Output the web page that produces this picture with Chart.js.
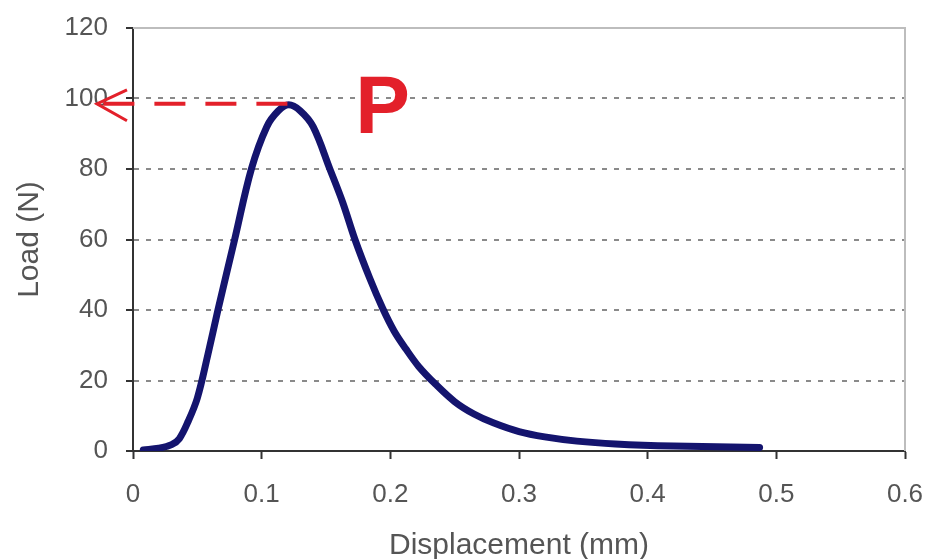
<!DOCTYPE html>
<html>
<head>
<meta charset="utf-8">
<script src="https://cdn.jsdelivr.net/npm/chart.js@4.4.1/dist/chart.umd.min.js"></script>
<style>
  body { margin: 0; background: #fff; }
  #wrap { width: 928px; height: 559px; }
</style>
</head>
<body>
<div id="wrap"><canvas id="grafico" width="928" height="559"></canvas></div>
<script>
// displacement (mm) and load (N)
const displacement = [0.008, 0.020, 0.030, 0.036, 0.043, 0.050, 0.058, 0.066, 0.079, 0.092, 0.104, 0.113, 0.121,
    0.130, 0.140, 0.153, 0.163, 0.1725, 0.184, 0.194, 0.203, 0.212, 0.222, 0.235, 0.250, 0.265, 0.280, 0.300, 0.320,
    0.345, 0.375, 0.420, 0.487];
const load = [0.3, 0.8, 1.8, 3.5, 8.5, 15, 27, 40, 60, 80, 92, 96.5, 98.2,
    96.5, 92, 80, 70.5, 60, 49, 40.5, 34, 29, 24, 19, 14, 10.5, 8, 5.5, 4,
    2.8, 2, 1.4, 1.0];

const xTicks = [0, 0.1, 0.2, 0.3, 0.4, 0.5, 0.6];
const yTicks = [0, 20, 40, 60, 80, 100, 120];

// peak marker
const peakX = 0.12;
const peakLoad = 98.5;
const arrowTipX = -0.028;
const labelX = 0.194;
const labelText = 'P';

const pontos = displacement.map((d, i) => ({ x: d, y: load[i] }));

const moldura = {
    id: 'moldura',
    beforeDatasetsDraw(chart) {
        const { ctx, chartArea } = chart;
        ctx.save();
        ctx.strokeStyle = '#bdbdbd';
        ctx.lineWidth = 2;
        ctx.beginPath();
        ctx.moveTo(chartArea.left, chartArea.top);
        ctx.lineTo(chartArea.right, chartArea.top);
        ctx.lineTo(chartArea.right, chartArea.bottom);
        ctx.stroke();
        ctx.restore();
    }
};

const seta = {
    id: 'seta',
    afterDatasetsDraw(chart) {
        const ctx = chart.ctx;
        const xs = chart.scales.x, ys = chart.scales.y;
        const x1 = xs.getPixelForValue(peakX);
        const x0 = xs.getPixelForValue(arrowTipX);
        const yy = ys.getPixelForValue(peakLoad);
        ctx.save();
        ctx.strokeStyle = '#e3202a';
        ctx.lineWidth = 4;
        ctx.setLineDash([31, 20]);
        ctx.beginPath();
        ctx.moveTo(x1, yy);
        ctx.lineTo(x0, yy);
        ctx.stroke();
        ctx.setLineDash([]);
        ctx.lineWidth = 3;
        ctx.beginPath();
        ctx.moveTo(x0 + 30, yy - 14);
        ctx.lineTo(x0, yy);
        ctx.lineTo(x0 + 30, yy + 17);
        ctx.stroke();

        ctx.fillStyle = '#e3202a';
        ctx.font = 'bold 82px "Liberation Sans", Arial, sans-serif';
        ctx.textAlign = 'center';
        ctx.textBaseline = 'alphabetic';
        ctx.fillText(labelText, xs.getPixelForValue(labelX), yy + 29);
        ctx.restore();
    }
};

Chart.defaults.font.family = '"Liberation Sans", Arial, sans-serif';
Chart.defaults.color = '#555';

new Chart(document.getElementById('grafico'), {
    type: 'scatter',
    data: {
        datasets: [{
            data: pontos,
            showLine: true,
            borderColor: '#14146e',
            backgroundColor: '#14146e',
            borderWidth: 7,
            pointRadius: 0,
            tension: 0.35,
            borderCapStyle: 'round',
            borderJoinStyle: 'round'
        }]
    },
    options: {
        responsive: false,
        animation: false,
        layout: { padding: { top: 28, right: 23, left: 0, bottom: 0 } },
        plugins: {
            legend: { display: false },
            tooltip: { enabled: false }
        },
        scales: {
            x: {
                type: 'linear',
                min: 0,
                max: 0.6,
                afterBuildTicks: s => { s.ticks = xTicks.map(v => ({ value: v })) },
                afterFit: s => { s.height = 108; s.paddingLeft = 0; s.paddingRight = 0 },
                ticks: {
                    font: { size: 26 },
                    padding: 20,
                    maxRotation: 0,
                    callback: v => String(+v.toFixed(1))
                },
                grid: {
                    drawOnChartArea: false,
                    tickLength: 8,
                    tickColor: '#333',
                    tickWidth: 2
                },
                border: { color: '#333', width: 2 },
                title: {
                    display: true,
                    text: 'Displacement (mm)',
                    font: { size: 30 },
                    padding: { top: 0, bottom: -5 }
                }
            },
            y: {
                min: 0,
                max: 120,
                afterBuildTicks: s => { s.ticks = yTicks.map(v => ({ value: v })) },
                afterFit: s => { s.width = 133; s.paddingTop = 0; s.paddingBottom = 0 },
                ticks: {
                    font: { size: 26 },
                    padding: 18
                },
                grid: {
                    color: '#8a8a8a',
                    lineWidth: 2,
                    tickLength: 7,
                    tickColor: '#333',
                    tickWidth: 2,
                    tickBorderDash: []
                },
                border: { color: '#333', width: 2, dash: [5, 7] },
                title: {
                    display: true,
                    text: 'Load (N)',
                    font: { size: 30 },
                    padding: { top: 12, bottom: 0 }
                }
            }
        }
    },
    plugins: [moldura, seta]
});
</script>
</body>
</html>
